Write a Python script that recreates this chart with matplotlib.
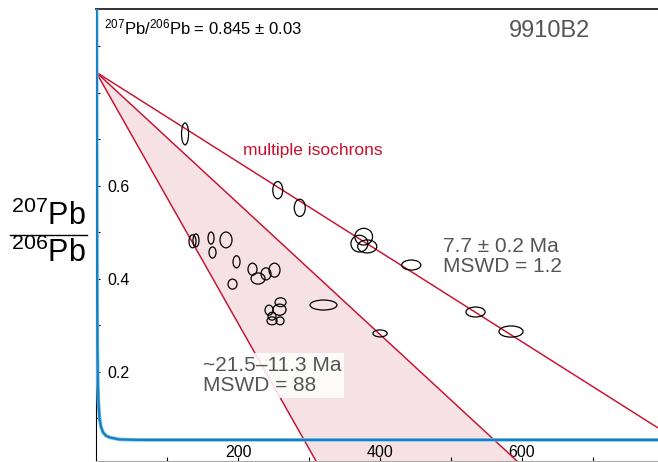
import matplotlib
matplotlib.use("Agg")
import matplotlib.pyplot as plt
from matplotlib.patches import Ellipse, Polygon
from matplotlib.lines import Line2D

plt.rcParams['font.family'] = ['Liberation Sans', 'DejaVu Sans']
plt.rcParams['mathtext.fontset'] = 'custom'
plt.rcParams['mathtext.rm'] = 'Liberation Sans'
plt.rcParams['mathtext.default'] = 'regular'

# analysis ellipses: centre x, centre y, width (x), height (y)
ell_x = [125.4, 256, 287, 377, 371, 382, 444, 534.5, 584.5, 400,
         135.9, 140.8, 162, 183.1, 164.1, 197.9, 192.3, 220.4, 228.2, 239.4, 251.4,
         259.9, 258.5, 243.7, 247.9, 259.2, 247.9, 320.4]
ell_y = [0.712, 0.591, 0.553, 0.491, 0.476, 0.470, 0.430, 0.329, 0.287, 0.283,
         0.481, 0.483, 0.488, 0.484, 0.457, 0.437, 0.389, 0.421, 0.401, 0.411, 0.419,
         0.350, 0.334, 0.333, 0.310, 0.310, 0.320, 0.344]
ell_w = [9.9, 14, 15.5, 25, 24, 27, 27, 27, 34, 20,
         9.9, 8.5, 8.5, 16.9, 9.9, 9.9, 12.7, 12.7, 19.7, 14.1, 15.5,
         15.5, 18.3, 11.3, 14.1, 11.3, 11.3, 38]
ell_h = [0.047, 0.037, 0.037, 0.036, 0.036, 0.028, 0.0215, 0.0215, 0.024, 0.015,
         0.028, 0.028, 0.026, 0.034, 0.024, 0.026, 0.0215, 0.026, 0.024, 0.026, 0.030,
         0.019, 0.024, 0.0215, 0.017, 0.017, 0.017, 0.0215]

# common 207Pb/206Pb intercept and x-intercepts of the isochrons
y_int = 0.845
x_int_single = 874      # 7.7 Ma isochron
x_int_young = 599       # right edge of the shaded fan
x_int_old = 313         # left edge of the shaded fan

# concordia curve
conc_x = [1.0, 1.2, 1.5, 2.0, 2.6, 3.5, 5, 7, 10, 14, 20, 33, 60, 800]
conc_y = [0.98, 0.70, 0.40, 0.25, 0.18, 0.135, 0.10, 0.082, 0.07, 0.063, 0.059, 0.055, 0.054, 0.054]

red = '#c8102e'
pink = '#f6e2e4'
grey = '#555555'

fig = plt.figure(figsize=(6.58, 4.62), dpi=100)
ax = fig.add_axes([96 / 658, 1 / 462, 562 / 658, 452 / 462])
ax.set_xlim(0, 791.5)
ax.set_ylim(0.0086, 0.9806)

# shaded fan of isochrons
ax.add_patch(Polygon([(0, y_int), (x_int_old, 0), (x_int_young, 0)],
                     closed=True, facecolor=pink, edgecolor='none', zorder=1))
for xi in [x_int_single, x_int_young, x_int_old]:
    ax.plot([0, xi], [y_int, 0], color=red, lw=1.05, zorder=2)

for x, y, w, h in zip(ell_x, ell_y, ell_w, ell_h):
    ax.add_patch(Ellipse((x, y), w, h, facecolor='none', edgecolor='black', lw=0.9, zorder=3))

ax.plot(conc_x, conc_y, color='#7cc3e8', lw=2.6, zorder=4, solid_capstyle='butt')
ax.plot(conc_x, conc_y, color='#1580bf', lw=1.6, zorder=4, solid_capstyle='butt')

# axes styling
ax.spines['right'].set_visible(False)
ax.spines['top'].set_color('#333333')
ax.spines['top'].set_linewidth(1.4)
ax.spines['left'].set_color('black')
ax.spines['bottom'].set_color('#aaaaaa')

ax.set_yticks([0.2, 0.4, 0.6])
ax.set_yticklabels(['0.2', '0.4', '0.6'])
ax.set_yticks([0.1, 0.3, 0.5, 0.7, 0.8, 0.9], minor=True)
ax.set_xticks([200, 400, 600])
ax.set_xticklabels(['200', '400', '600'])
ax.set_xticks([100, 300, 500, 700], minor=True)
ax.tick_params(axis='y', which='both', direction='in', length=3, width=0.8, pad=-8, labelsize=11.5)
ax.tick_params(axis='x', which='both', direction='in', length=3, width=0.8, pad=-1, labelsize=11.5)
for lab in ax.get_yticklabels():
    lab.set_ha('left')
for lab in ax.get_xticklabels():
    lab.set_va('bottom')

# annotations
ax.text(11.3, 0.927, r'$^{207}$Pb/$^{206}$Pb = 0.845 ± 0.03', fontsize=12, va='baseline', zorder=6)
ax.text(581.7, 0.920, '9910B2', fontsize=17, color=grey, va='baseline', zorder=6)
ax.text(207, 0.667, 'multiple isochrons', fontsize=12.5, color=red, va='baseline', zorder=6)
ax.text(488.7, 0.490, '7.7 ± 0.2 Ma\nMSWD = 1.2', fontsize=15, color=grey, va='top',
        linespacing=1.05, zorder=6)
ax.text(151, 0.234, '~21.5–11.3 Ma\nMSWD = 88', fontsize=15, color=grey, va='top',
        linespacing=1.05, zorder=6,
        bbox=dict(facecolor='white', alpha=0.85, edgecolor='none', pad=2))

# y label as a stacked ratio
fig.text(48 / 658, 1 - 225 / 462, r'$^{207}$Pb', fontsize=22, ha='center', va='baseline')
fig.text(48 / 658, 1 - 262 / 462, r'$^{206}$Pb', fontsize=22, ha='center', va='baseline')
fig.add_artist(Line2D([10 / 658, 87 / 658], [1 - 235 / 462, 1 - 235 / 462],
                      color='black', lw=1.0, transform=fig.transFigure))

fig.savefig('out.png', dpi=100)
